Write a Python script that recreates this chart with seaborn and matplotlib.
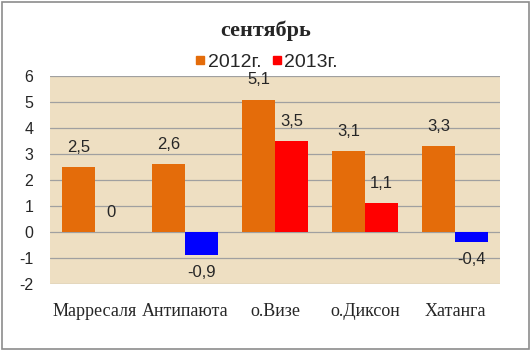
import numpy as np
import pandas as pd
import matplotlib
matplotlib.use("Agg")
import matplotlib.pyplot as plt
from matplotlib.patches import Rectangle
from matplotlib.lines import Line2D
import seaborn as sns

# данные
stations = ["Марресаля", "Антипаюта", "о.Визе", "о.Диксон", "Хатанга"]
years = ["2012г.", "2013г."]
vals_2012 = [2.5, 2.6, 5.1, 3.1, 3.3]
vals_2013 = [0.0, -0.9, 3.5, 1.1, -0.4]

df = pd.DataFrame({
    "station": stations * 2,
    "year": [years[0]] * 5 + [years[1]] * 5,
    "value": vals_2012 + vals_2013,
})

c_orange = "#E46C0A"
c_red = "#FF0000"
c_blue = "#0000FF"

sns.set_style("white")
plt.rcParams["font.family"] = ["Liberation Sans", "DejaVu Sans"]
plt.rcParams["axes.unicode_minus"] = False

fig = plt.figure(figsize=(5.32, 3.51), dpi=100)
ax = fig.add_axes([0.094, 0.191, 0.846, 0.592])
ax.set_facecolor("#EEDFC2")

sns.barplot(data=df, x="station", y="value", hue="year",
            palette=[c_orange, c_red], width=0.73, gap=0, saturation=1,
            legend=False, ax=ax, zorder=3)

# отрицательные значения 2013 - синим
for cont, vals in zip(ax.containers, [vals_2012, vals_2013]):
    for bar, v in zip(cont, vals):
        bar.set_edgecolor("none")
        if v < 0:
            bar.set_facecolor(c_blue)
        lab = f"{v:.1f}".replace(".", ",") if v != 0 else "0"
        x = bar.get_x() + bar.get_width() / 2
        if v >= 0:
            ax.annotate(lab, (x, v), xytext=(0, 9), textcoords="offset points",
                        ha="center", va="bottom", fontsize=12)
        else:
            ax.annotate(lab, (x, v), xytext=(0, -7), textcoords="offset points",
                        ha="center", va="top", fontsize=12)

ax.set_ylim(-2, 6)
ax.set_yticks(range(-2, 7))
ax.set_xlim(-0.5, 4.5)
ax.yaxis.grid(True, color="#A0A0A0", linewidth=0.9, zorder=0)
ax.set_axisbelow(True)
for s in ax.spines.values():
    s.set_visible(False)
ax.set_xlabel("")
ax.set_ylabel("")
ax.tick_params(axis="y", length=0, pad=12, labelsize=11.5)
ax.tick_params(axis="x", length=0, pad=14)
for t in ax.get_xticklabels():
    t.set_fontfamily("Liberation Serif")
    t.set_fontsize(13)

handles = [Line2D([], [], marker="s", linestyle="", color=c, markersize=6)
           for c in [c_orange, c_red]]
fig.legend(handles, years, loc="center", bbox_to_anchor=(0.5, 0.823),
           ncol=2, frameon=False, fontsize=14, handletextpad=0.1,
           columnspacing=0.5, handlelength=0.6)

fig.text(0.5, 0.912, "сентябрь", ha="center", va="center",
         fontfamily="Liberation Serif", fontweight="bold", fontsize=16)

fig.patches.append(Rectangle((0.004, 0.006), 0.99, 0.988, transform=fig.transFigure,
                             fill=False, edgecolor="#8C8C8C", linewidth=1.2))

fig.savefig("out.png", dpi=100)
